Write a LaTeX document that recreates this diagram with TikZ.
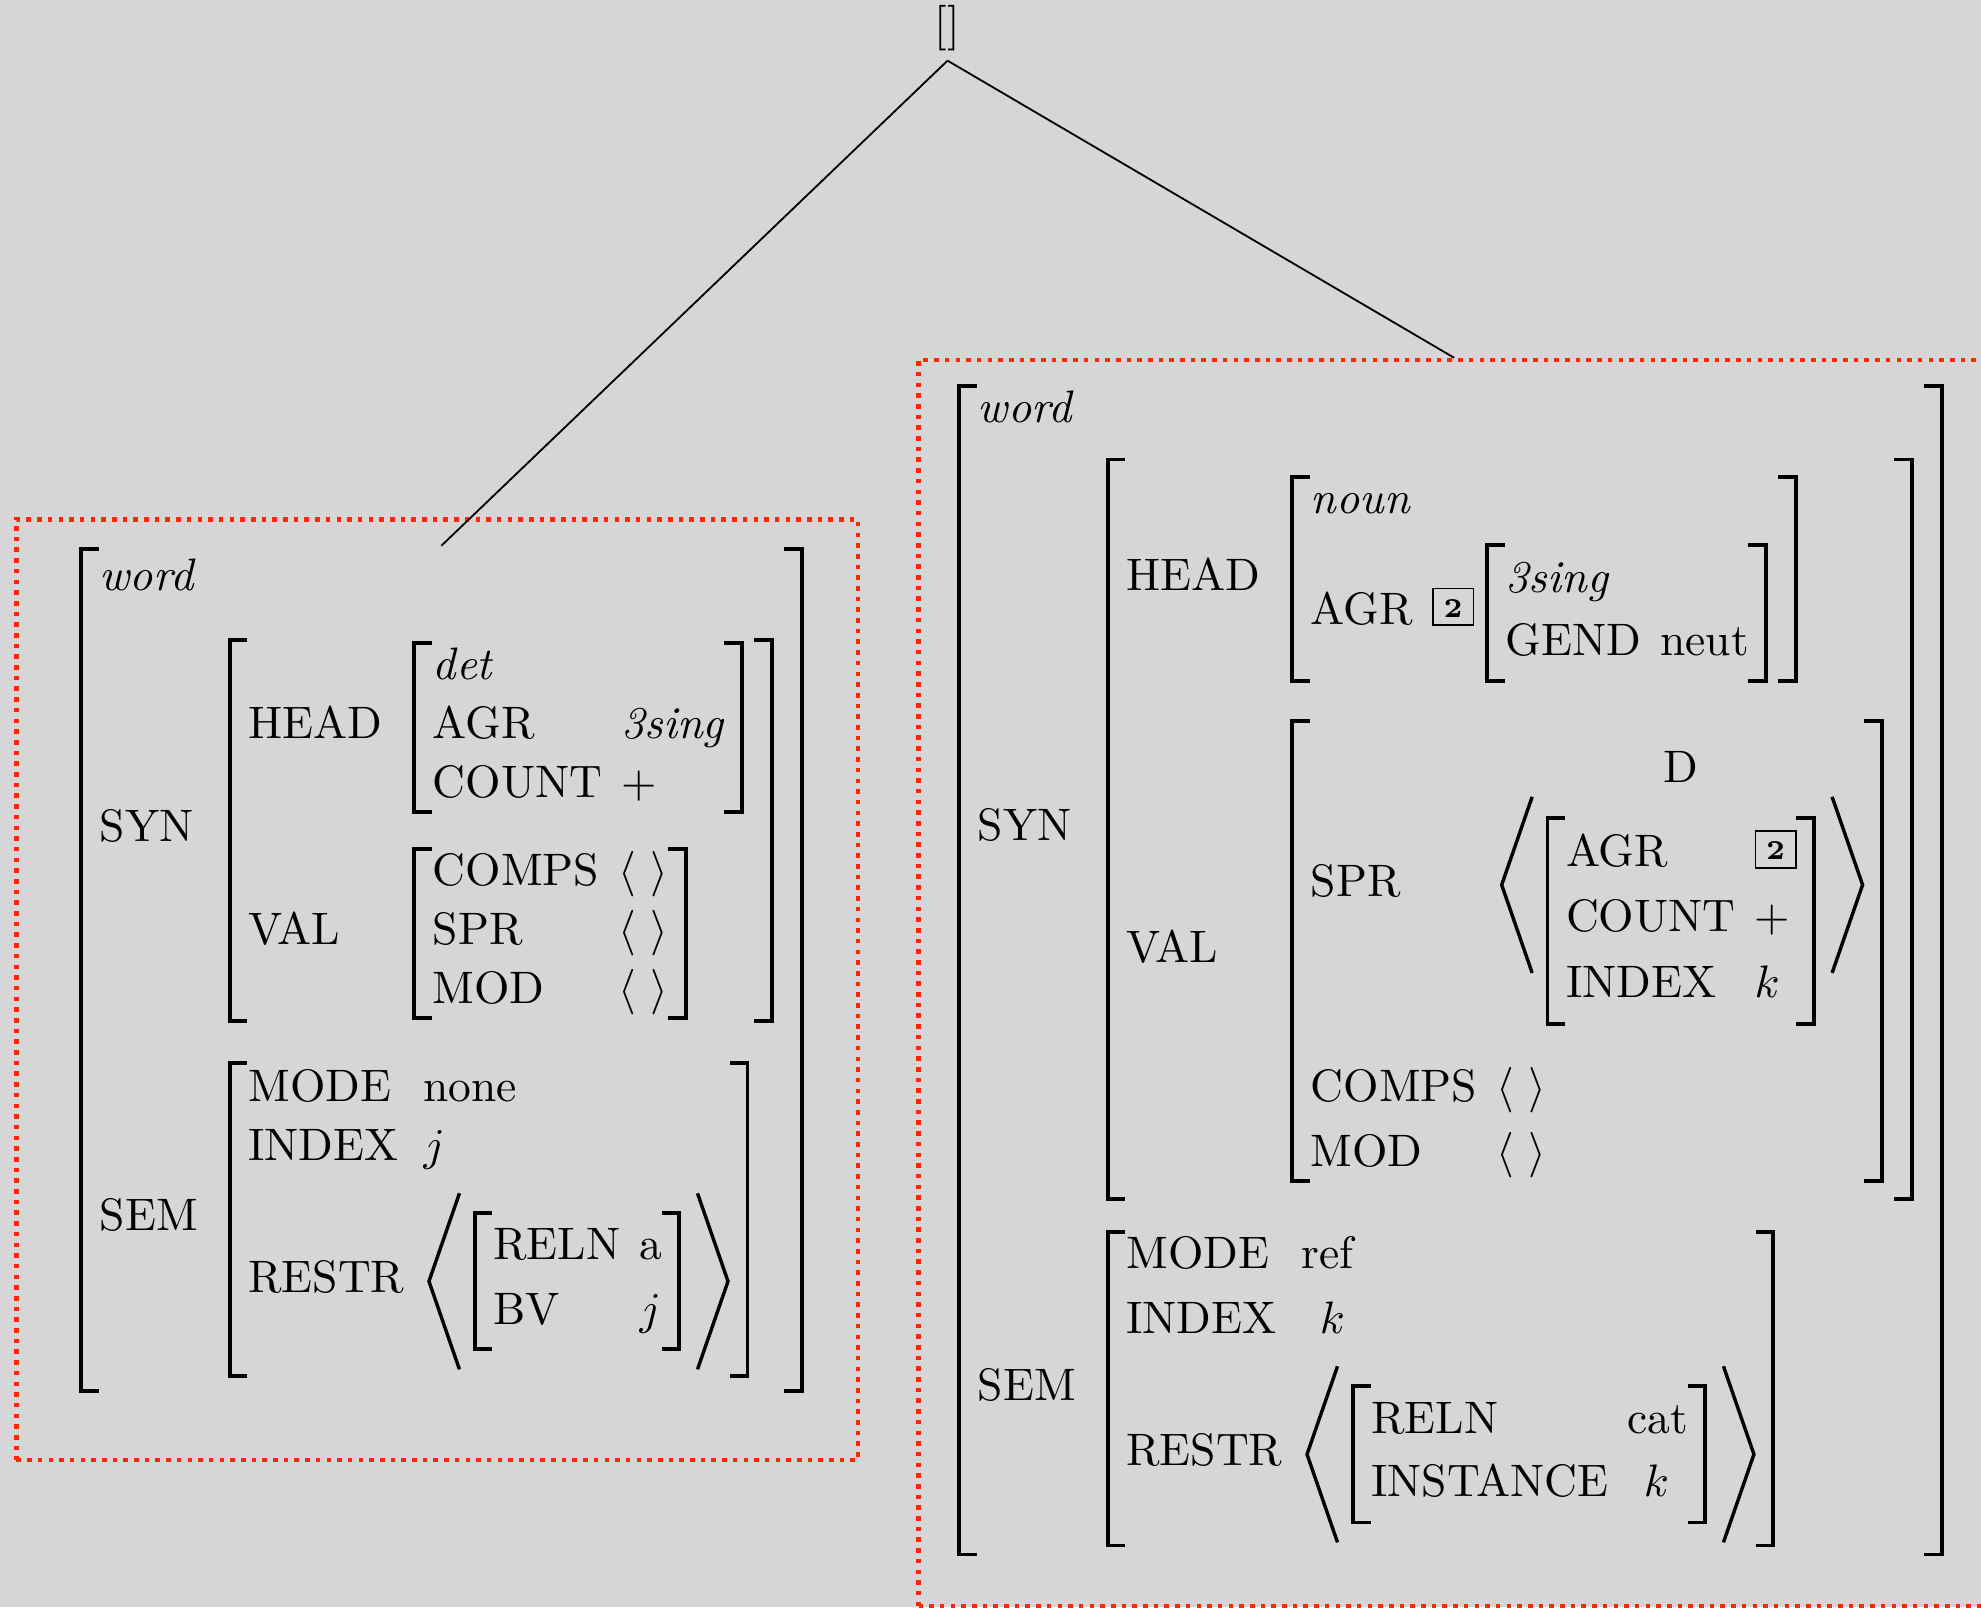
\documentclass[tikz,border=0pt]{standalone}
\usepackage{amsmath}
\usepackage{pict2e}
\usetikzlibrary{positioning,fit}

\definecolor{bggray}{RGB}{214,214,214}
\definecolor{framered}{RGB}{255,40,0}

% attribute-value matrices with drawn brackets
\newlength{\avmsep}\setlength{\avmsep}{4.2pt}
\newlength{\avmrule}\setlength{\avmrule}{0.85pt}
\newlength{\avmfoot}\setlength{\avmfoot}{4.3pt}
\newlength{\avmht}\newlength{\avmdp}
\newsavebox{\avmcontent}
\def\avmpad{0.5pt}
\def\avmrowsep{1pt}
\newcommand{\avmnl}{\\[\avmrowsep]}
\newcommand{\avmgap}[1]{\noalign{\vskip #1}}
\newcommand{\lbrk}{\rlap{\vrule width\avmfoot height\avmht depth-\dimexpr\avmht-\avmrule\relax}%
  \rlap{\vrule width\avmfoot height-\dimexpr\avmdp-\avmrule\relax depth\avmdp}%
  \vrule width\avmrule height\avmht depth\avmdp}
\newcommand{\rbrk}{\vrule width\avmrule height\avmht depth\avmdp
  \llap{\vrule width\avmfoot height\avmht depth-\dimexpr\avmht-\avmrule\relax}%
  \llap{\vrule width\avmfoot height-\dimexpr\avmdp-\avmrule\relax depth\avmdp}}
\newcommand{\avm}[2][\avmpad]{%
  \sbox{\avmcontent}{$\begin{tabular}{@{}l@{\hspace{\avmsep}}l@{}}#2\end{tabular}$}%
  \setlength{\avmht}{\dimexpr\ht\avmcontent+#1\relax}%
  \setlength{\avmdp}{\dimexpr\dp\avmcontent+#1\relax}%
  \hbox{\kern2.4pt\lbrk\kern3.65pt\usebox{\avmcontent}\kern3.35pt\rbrk\kern2.35pt}}
\newcommand{\langlepic}{\kern0.9pt\raisebox{-16.85pt}{\setlength{\unitlength}{1pt}%
  \begin{picture}(7,38.7)\linethickness{0.75pt}\polyline(7,38.7)(0.3,19.35)(7,0)\end{picture}}\kern0.55pt}
\newcommand{\ranglepic}{\kern1.2pt\raisebox{-16.85pt}{\setlength{\unitlength}{1pt}%
  \begin{picture}(7,38.7)\linethickness{0.75pt}\polyline(0,38.7)(6.7,19.35)(0,0)\end{picture}}\kern0.2pt}
\newcommand{\angled}[1]{\langlepic#1\ranglepic}
\newcommand{\tagged}[1]{{\setlength{\fboxsep}{0pt}\setlength{\fboxrule}{0.4pt}%
  \fbox{\makebox[8.5pt]{\rule[0.1pt]{0pt}{7.6pt}\raisebox{1.6pt}{\fontsize{6}{7}\selectfont\bfseries #1}}}}}
\newcommand{\el}{$\langle\ \rangle$}

\tikzset{
  avmnode/.style={inner sep=0pt, anchor=north west},
  redframe/.style={draw=framered, line width=1pt, dash pattern=on 1pt off 1.35pt, inner sep=0pt},
  branch/.style={line width=0.4pt}
}

\begin{document}
\begin{tikzpicture}[x=0.27767pt, y=-0.27767pt]
\fill[bggray] (0,0) rectangle (1568,1272);
\useasboundingbox (0,0) rectangle (1568,1272);

\node[inner sep=2pt, anchor=south] (root) at (750,48) {[]};

% determiner
\node[avmnode] (det) at (53.4,432) {\def\avmrowsep{1pt}%
$\avm[1.3pt]{\textit{word} & \\ \avmgap{6.7pt}
SYN & $\avm[0.7pt]{HEAD & $\avm[0pt]{\textit{det} & \avmnl AGR & \textit{3sing} \avmnl COUNT & +}$ \\ \avmgap{7.3pt}
            VAL & $\avm[0pt]{COMPS & \el \avmnl SPR & \el \avmnl MOD & \el}$}$ \\ \avmgap{8.4pt}
SEM & $\avm{MODE & none \avmnl INDEX & $j$ \\ \avmgap{3.5pt}
            RESTR & \def\avmrowsep{2.3pt}\angled{$\avm[2.2pt]{RELN & a \avmnl BV & $j$}$} \\ \avmgap{1.3pt}}$ \\ \avmgap{2.1pt}}$};

% noun
\node[avmnode] (noun) at (748.4,303.5) {\def\avmrowsep{2.3pt}%
$\avm[0pt]{\textit{word} & \\ \avmgap{4.1pt}
SYN & $\avm[3.9pt]{HEAD & $\avm[0pt]{\textit{noun} & \\ \avmgap{2.8pt}
                AGR & \tagged{2}\def\avmrowsep{1.8pt}$\avm[2.55pt]{\textit{3sing} & \avmnl GEND & neut}$}$ \\ \avmgap{7.8pt}
            VAL & $\avm[0pt]{\avmgap{5.5pt}
                SPR & \angled{\begin{tabular}{@{}c@{}}D\\ \avmgap{3.9pt}
                   $\avm[2.75pt]{AGR & \tagged{2} \avmnl COUNT & + \avmnl INDEX & $k$}$\end{tabular}} \\ \avmgap{8.3pt}
                COMPS & \el \avmnl MOD & \el}$}$ \\ \avmgap{6.4pt}
SEM & $\avm[0pt]{MODE & ref \avmnl INDEX & \hspace{4pt}$k$ \\ \avmgap{3.6pt}
            RESTR & \def\avmrowsep{1.9pt}\angled{$\avm[2.45pt]{RELN & cat \avmnl INSTANCE & \hspace{3.6pt}$k$}$} \\ \avmgap{1.1pt}}$ \\ \avmgap{2pt}}$};

\node[redframe, fit={(13,411) (679,1155.6)}] (detframe) {};
\node[redframe, fit={(727,285) (1575,1271)}] (nounframe) {};

\draw[branch] (root.south) -- (det.north);
\draw[branch] (root.south) -- (nounframe.north);
\end{tikzpicture}
\end{document}
